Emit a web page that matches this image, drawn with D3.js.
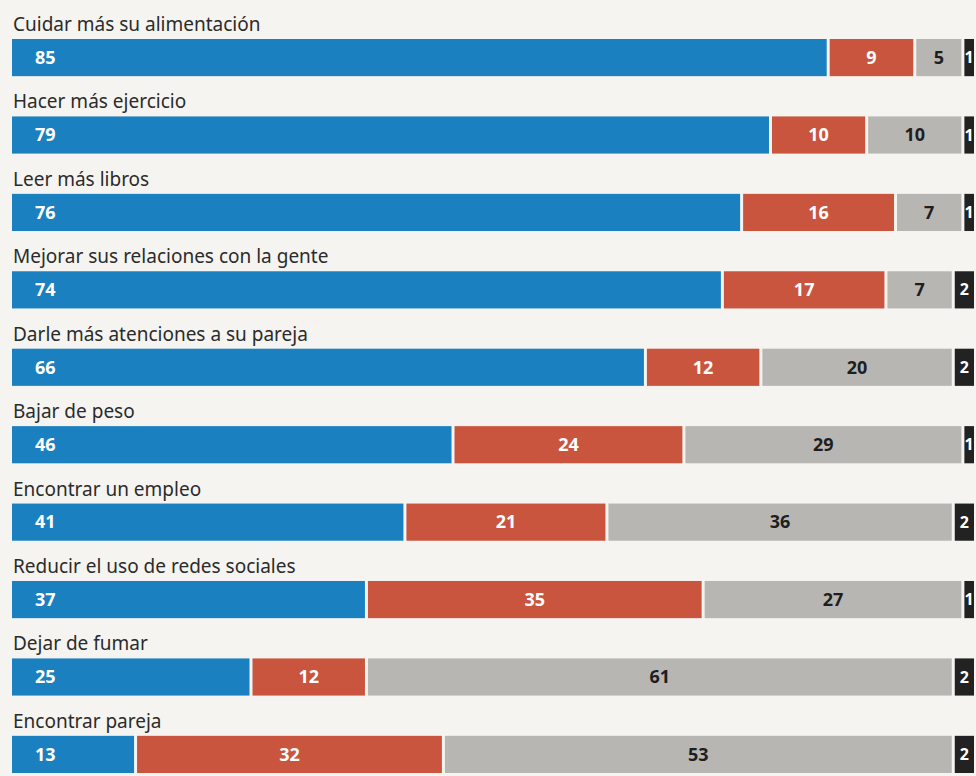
<!DOCTYPE html>
<html>
<head>
<meta charset="utf-8">
<script src="https://cdn.jsdelivr.net/npm/d3@7"></script>
<style>
  html, body { margin: 0; padding: 0; background: #f5f4f0; }
  svg { display: block; }
</style>
</head>
<body>
<svg></svg>
<script>
// Tamaño de la página
const width = 976;
const height = 776;

// Datos (porcentajes)
const categories = [
  "Cuidar más su alimentación",
  "Hacer más ejercicio",
  "Leer más libros",
  "Mejorar sus relaciones con la gente",
  "Darle más atenciones a su pareja",
  "Bajar de peso",
  "Encontrar un empleo",
  "Reducir el uso de redes sociales",
  "Dejar de fumar",
  "Encontrar pareja"
];
const si = [85, 79, 76, 74, 66, 46, 41, 37, 25, 13];
const no = [9, 10, 16, 17, 12, 24, 21, 35, 12, 32];
const depende = [5, 10, 7, 7, 20, 29, 36, 27, 61, 53];
const nsnc = [1, 1, 1, 2, 2, 1, 2, 1, 2, 2];

const keys = ["si", "no", "depende", "nsnc"];
const colors = { si: "#1b80bf", no: "#c9553e", depende: "#b7b6b3", nsnc: "#222222" };
const textColors = { si: "#ffffff", no: "#ffffff", depende: "#1e1e1e", nsnc: "#ffffff" };

// Tabla para d3.stack
const table = categories.map((c, i) => ({
  cat: c, si: si[i], no: no[i], depende: depende[i], nsnc: nsnc[i]
}));

const series = d3.stack().keys(keys)(table);

const x = d3.scaleLinear().domain([0, 100]).range([12, 974]);
const y = d3.scaleBand()
  .domain(categories)
  .range([39, 773])
  .paddingInner(0.52)
  .paddingOuter(0);

const gap = 3;

const svg = d3.select("svg")
  .attr("width", width)
  .attr("height", height);

// Etiquetas de cada fila
svg.append("g")
  .selectAll("text")
  .data(categories)
  .join("text")
  .attr("x", x(0) + 1)
  .attr("y", d => y(d) - 8)
  .attr("fill", "#2b2b2b")
  .style("font-family", "'Noto Sans', sans-serif")
  .style("font-size", "19px")
  .text(d => d);

// Segmentos
const layer = svg.append("g")
  .selectAll("g")
  .data(series)
  .join("g")
  .attr("fill", d => colors[d.key]);

layer.selectAll("rect")
  .data(d => d.map(v => ({ key: d.key, v })))
  .join("rect")
  .attr("x", d => x(d.v[0]))
  .attr("y", d => y(d.v.data.cat))
  .attr("width", d => Math.max(0, x(d.v[1]) - x(d.v[0]) - (d.key === "nsnc" ? 0 : gap)))
  .attr("height", y.bandwidth());

// Valores
layer.selectAll("text")
  .data(d => d.map(v => ({ key: d.key, v })))
  .join("text")
  .attr("x", d => d.key === "si"
    ? x(d.v[0]) + 23
    : (x(d.v[0]) + x(d.v[1]) - (d.key === "nsnc" ? 0 : gap)) / 2)
  .attr("y", d => y(d.v.data.cat) + y.bandwidth() / 2)
  .attr("dy", "0.35em")
  .attr("text-anchor", d => d.key === "si" ? "start" : "middle")
  .attr("fill", d => textColors[d.key])
  .style("font-family", "'Noto Sans', sans-serif")
  .style("font-weight", "700")
  .style("font-size", d => d.key === "nsnc" ? "16px" : "18px")
  .text(d => d.v[1] - d.v[0]);
</script>
</body>
</html>
